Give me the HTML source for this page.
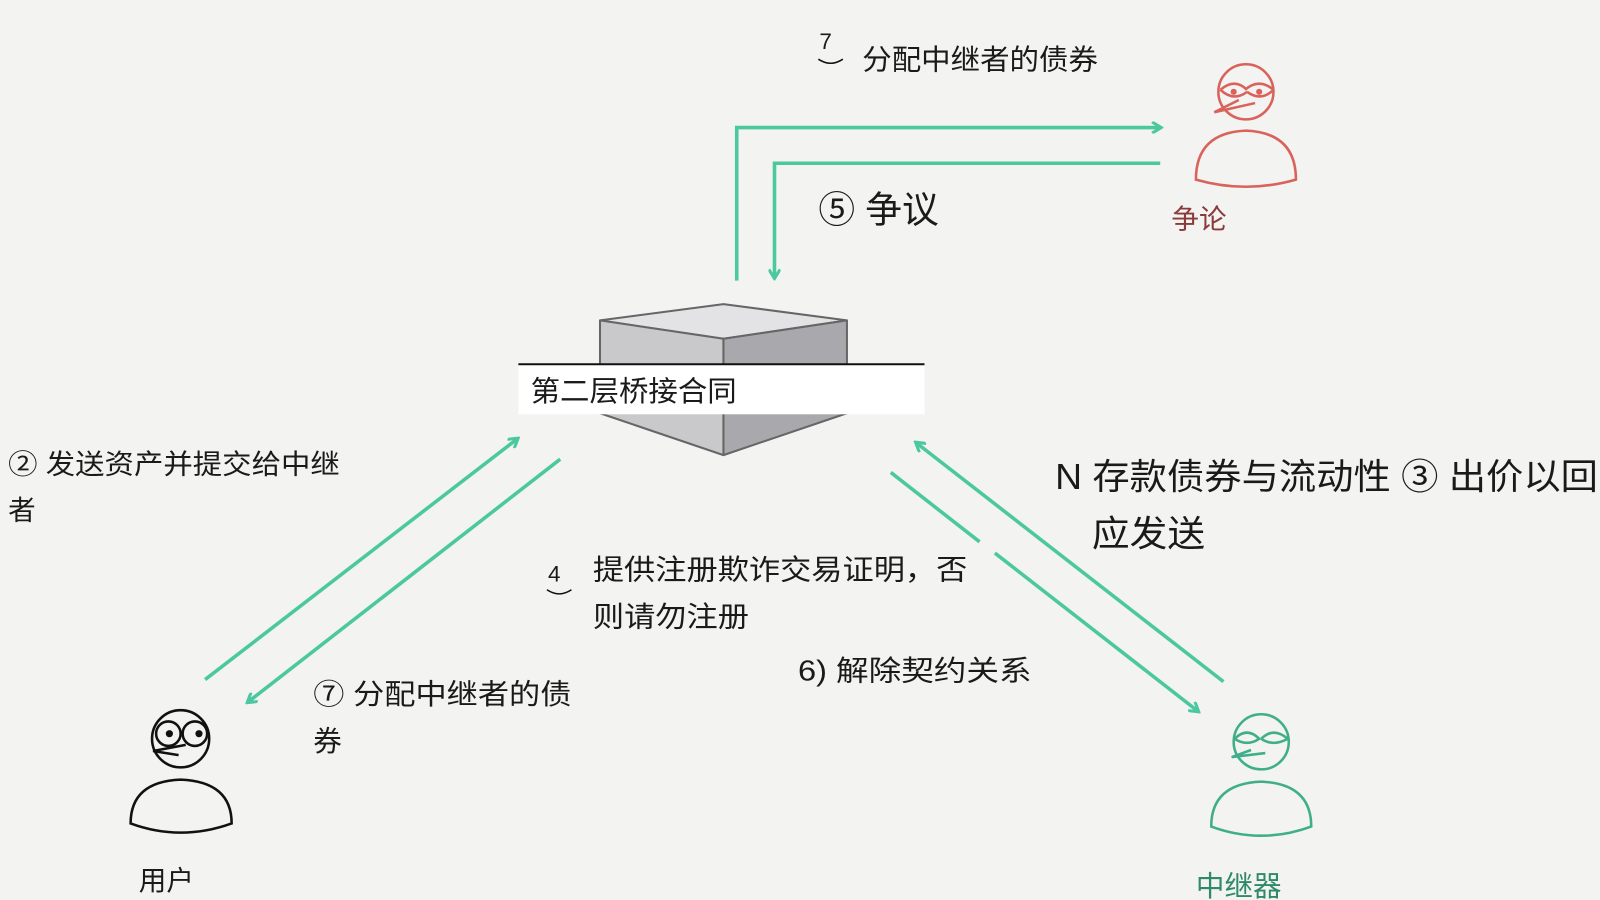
<!DOCTYPE html>
<html><head><meta charset="utf-8"><style>
html,body{margin:0;padding:0;background:#f3f3f1;}
svg{display:block}
text{font-family:"Liberation Sans","Noto Sans CJK SC",sans-serif;fill:#1a1a1a}
</style></head><body>
<svg width="1600" height="900" viewBox="0 0 1568 882" xmlns="http://www.w3.org/2000/svg">
<rect width="1568" height="882" fill="#f3f3f1"/>
<defs>
<marker id="a" markerWidth="12" markerHeight="12" refX="9" refY="6" orient="auto" markerUnits="userSpaceOnUse">
<path d="M1,0.5 L10,6 L1,11.5" fill="none" stroke="#4cc8a0" stroke-width="3"/>
</marker>
</defs>
<g fill="none" stroke="#4cc8a0" stroke-width="3.5">
<path d="M722,275 V125 H1137" marker-end="url(#a)"/>
<path d="M1137,160 H759 V272" marker-end="url(#a)"/>
<path d="M201,666 L507,430" marker-end="url(#a)"/>
<path d="M549,450 L243,688" marker-end="url(#a)"/>
<path d="M1199,668 L898,434" marker-end="url(#a)"/>
<path d="M873,463 L960,531 M975,542 L1174,697" marker-end="url(#a)"/>
</g>
<g stroke="#666" stroke-width="2" stroke-linejoin="round">
<polygon points="588,314 709,298 830,314 709,332" fill="#e3e3e5"/>
<polygon points="588,314 709,332 709,446 588,405" fill="#c9c9cc"/>
<polygon points="709,332 830,314 830,405 709,446" fill="#a9a9ad"/>
</g>
<rect x="508" y="357" width="398" height="49" fill="#fff"/>
<line x1="508" y1="357" x2="906" y2="357" stroke="#111" stroke-width="2"/>
<text x="520" y="393" font-size="28" textLength="202" lengthAdjust="spacingAndGlyphs">第二层桥接合同</text>
<g fill="none" stroke="#d9625a" stroke-width="2.5">
<circle cx="1221" cy="90" r="27"/>
<path d="M1172,176 Q1172,130 1221,128 Q1270,130 1270,176 Q1221,190 1172,176Z"/>
<path d="M1196,88 Q1210,76 1222,88 M1220,88 Q1234,76 1248,88 M1196,88 Q1209,100 1222,90 M1222,90 Q1236,100 1248,88"/>
<path d="M1214,98 L1190,110 L1230,101"/>
</g>
<circle cx="1209" cy="90" r="3" fill="#d9625a"/><circle cx="1234" cy="90" r="3" fill="#d9625a"/>
<text x="1148" y="224" font-size="27" style="fill:#8b3a3a">争论</text>
<g fill="none" stroke="#111" stroke-width="2.5">
<circle cx="177" cy="724" r="28"/>
<path d="M128,807 Q128,766 177,764 Q227,766 227,807 Q177,825 128,807Z"/>
<circle cx="165" cy="719" r="12"/><circle cx="191" cy="719" r="12"/>
<path d="M182,730 L150,736 L175,740"/>
</g>
<circle cx="166" cy="719" r="3.5" fill="#111"/><circle cx="195" cy="719" r="3.5" fill="#111"/>
<text x="136" y="872" font-size="27">用户</text>
<g fill="none" stroke="#3fae8a" stroke-width="2.5">
<circle cx="1236" cy="727" r="27"/>
<path d="M1187,810 Q1187,768 1236,766 Q1285,768 1285,810 Q1236,828 1187,810Z"/>
<path d="M1210,724 Q1222,712 1234,724 Q1222,732 1210,724 M1236,724 Q1248,712 1262,724 Q1248,732 1236,724"/>
<path d="M1226,735 L1207,742 L1240,738"/>
</g>
<text x="1172" y="878" font-size="28" style="fill:#2f8a6a">中继器</text>
<text x="803" y="48" font-size="22">7</text>
<path d="M802,58 Q814,66 826,58" stroke="#111" fill="none" stroke-width="1.5"/>
<text x="845" y="68" font-size="28" textLength="231" lengthAdjust="spacingAndGlyphs">分配中继者的债券</text>
<text x="802" y="218" font-size="36" textLength="118" lengthAdjust="spacingAndGlyphs">⑤ 争议</text>
<text x="8" y="464" font-size="27" textLength="325" lengthAdjust="spacingAndGlyphs">② 发送资产并提交给中继</text>
<text x="8" y="509" font-size="27">者</text>
<text x="1034" y="479" font-size="35" textLength="532" lengthAdjust="spacingAndGlyphs">N 存款债券与流动性 ③ 出价以回</text>
<text x="1070" y="535" font-size="35" textLength="111" lengthAdjust="spacingAndGlyphs">应发送</text>
<text x="537" y="570" font-size="22">4</text>
<path d="M536,578 Q548,586 560,578" stroke="#111" fill="none" stroke-width="1.5"/>
<text x="581" y="568" font-size="28" textLength="367" lengthAdjust="spacingAndGlyphs">提供注册欺诈交易证明，否</text>
<text x="581" y="614" font-size="28" textLength="153" lengthAdjust="spacingAndGlyphs">则请勿注册</text>
<text x="782" y="667" font-size="28" textLength="229" lengthAdjust="spacingAndGlyphs">6) 解除契约关系</text>
<text x="307" y="690" font-size="28" textLength="253" lengthAdjust="spacingAndGlyphs">⑦ 分配中继者的债</text>
<text x="307" y="736" font-size="28">券</text>
</svg>
</body></html>
